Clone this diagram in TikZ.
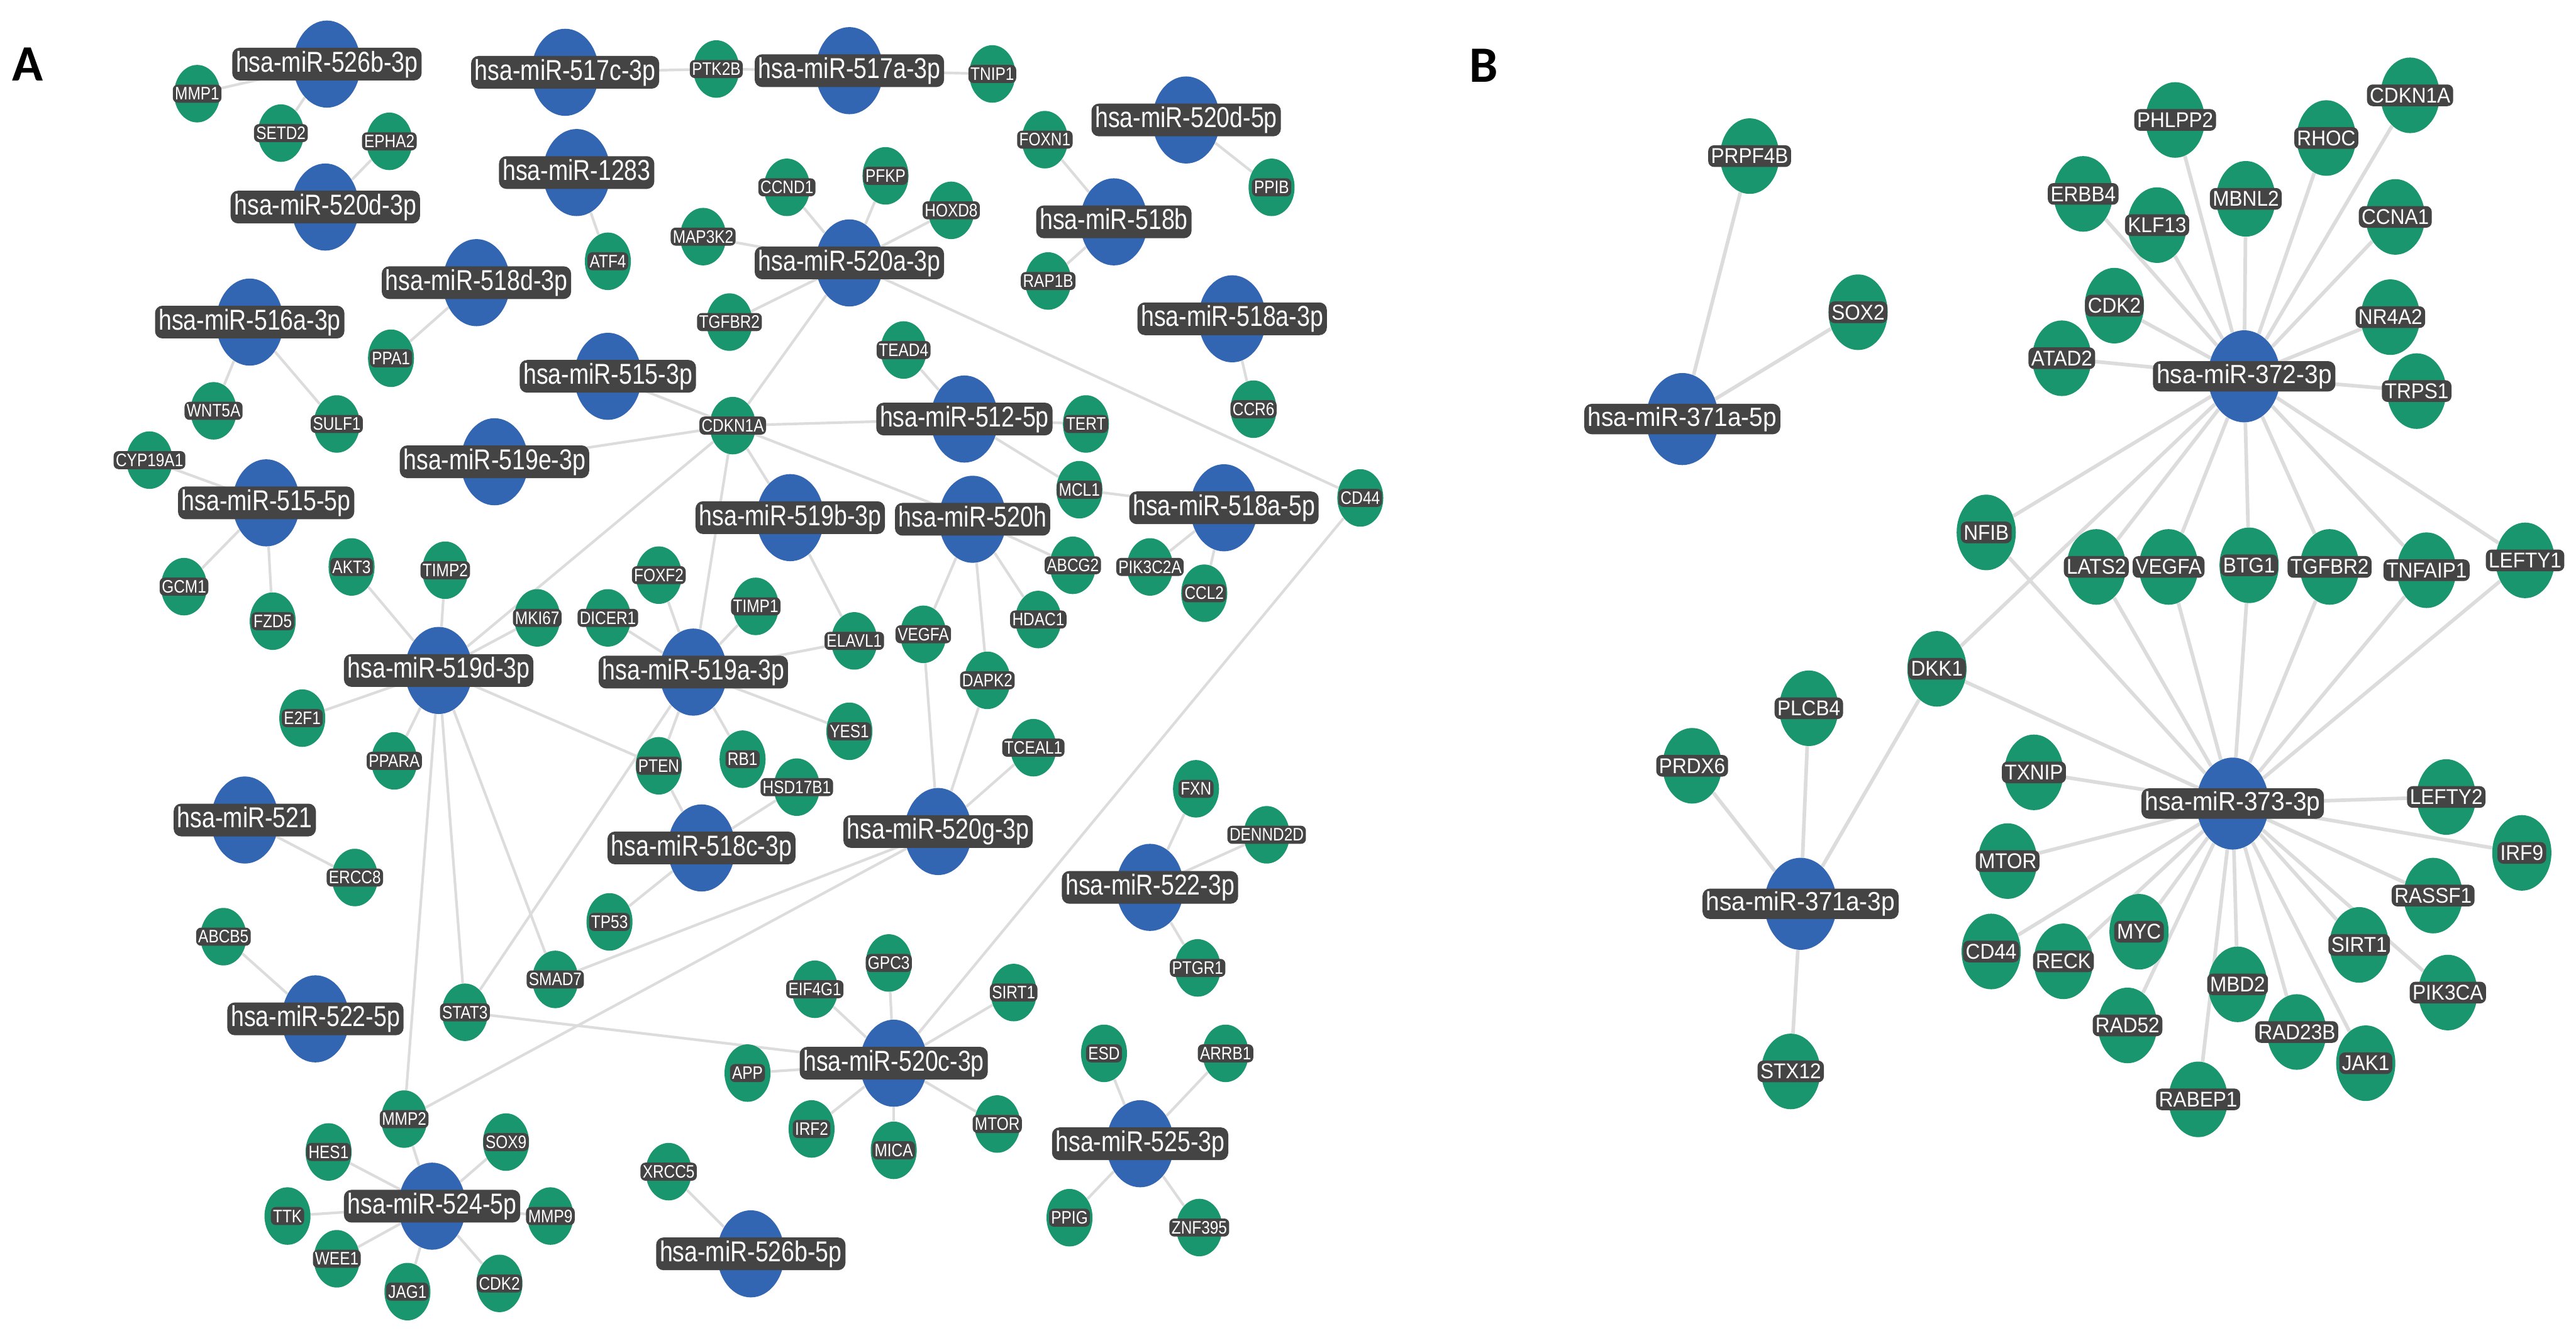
\documentclass[tikz,border=0pt]{standalone}
\usepackage{fontspec}
\setmainfont{Liberation Sans}
\newfontfamily\fA[FakeStretch=0.82]{Liberation Sans}
\newfontfamily\fG[FakeStretch=0.85]{Liberation Sans}
\newfontfamily\fB[FakeStretch=0.93]{Liberation Sans}
\newfontfamily\fP{Carlito}
\usetikzlibrary{shapes.geometric}
\pgfdeclarelayer{bg}
\pgfsetlayers{bg,main}
\definecolor{mirblue}{RGB}{50,101,178}
\definecolor{gengreen}{RGB}{26,150,110}
\definecolor{edgegray}{RGB}{220,220,220}
\definecolor{hgray}{RGB}{68,68,68}
\tikzset{
 mirA/.style={ellipse, fill=mirblue, minimum width=41pt, minimum height=53pt, inner sep=0pt},
 genA/.style={ellipse, fill=gengreen, minimum width=28pt, minimum height=35pt, inner sep=0pt},
 mirB/.style={ellipse, fill=mirblue, minimum width=44pt, minimum height=56pt, inner sep=0pt},
 genB/.style={ellipse, fill=gengreen, minimum width=36pt, minimum height=46pt, inner sep=0pt},
 edgeA/.style={draw=edgegray, line width=1.6pt},
 edgeB/.style={draw=edgegray, line width=2.2pt},
 lab/.style={text=white, fill=hgray},
 labmA/.style={lab, rounded corners=4.5pt, inner xsep=2.2pt, inner ysep=1.8pt, text height=12.8pt, text depth=3.5pt, font=\fA\fontsize{17.5}{17.5}\selectfont},
 labgA/.style={lab, rounded corners=3pt, inner xsep=1.3pt, inner ysep=1.3pt, text height=8pt, text depth=0.4pt, font=\fG\fontsize{11}{11}\selectfont},
 labmB/.style={lab, rounded corners=4.5pt, inner xsep=2.2pt, inner ysep=1.8pt, text height=11.7pt, text depth=3.2pt, font=\fB\fontsize{16}{16}\selectfont},
 labgB/.style={lab, rounded corners=3.5pt, inner xsep=1.7pt, inner ysep=1.6pt, text height=9.5pt, text depth=0.5pt, font=\fB\fontsize{13}{13}\selectfont},
 panel/.style={inner sep=0pt, font=\fP\bfseries\fontsize{31}{31}\selectfont}
}
\def\mirAlist{m526b3/199/39/hsa-miR-526b-3p, m517c3/344/44/hsa-miR-517c-3p, m517a3/517/43/hsa-miR-517a-3p,
m520d5/722/73/hsa-miR-520d-5p, m520d3/198/126/hsa-miR-520d-3p, m1283/351/105/hsa-miR-1283,
m518b/678/135/hsa-miR-518b, m518d3/290/172/hsa-miR-518d-3p, m520a3/517/160/hsa-miR-520a-3p,
m518a3/750/194/hsa-miR-518a-3p, m516a3/152/196/hsa-miR-516a-3p, m515a3/370/229/hsa-miR-515-3p,
m512a5/587/255/hsa-miR-512-5p, m519e3/301/281/hsa-miR-519e-3p, m515a5/162/306/hsa-miR-515-5p,
m519b3/481/315/hsa-miR-519b-3p, m520h/592/316/hsa-miR-520h, m518a5/745/309/hsa-miR-518a-5p,
m519d3/267/408/hsa-miR-519d-3p, m519a3/422/409/hsa-miR-519a-3p, m521/149/499/hsa-miR-521,
m518c3/427/516/hsa-miR-518c-3p, m520g3/571/506/hsa-miR-520g-3p, m522a3/700/540/hsa-miR-522-3p,
m522a5/192/620/hsa-miR-522-5p, m520c3/544/647/hsa-miR-520c-3p, m525a3/694/696/hsa-miR-525-3p,
m524a5/263/734/hsa-miR-524-5p, m526b5/457/763/hsa-miR-526b-5p}
\def\genAlist{aMMP1/120/57/MMP1, aSETD2/171/81/SETD2, aEPHA2/237/86/EPHA2, aPTK2B/436/42/PTK2B,
aTNIP1/604/45/TNIP1, aFOXN1/636/85/FOXN1, aPPIB/774/114/PPIB, aCCND1/479/114/CCND1, aPFKP/539/107/PFKP,
aHOXD8/579/128/HOXD8, aMAP3K2/428/144/MAP3K2, aATF4/370/159/ATF4, aRAP1B/638/171/RAP1B,
aTGFBR2/444/196/TGFBR2, aTEAD4/550/213/TEAD4, aPPA1/238/218/PPA1, aCCR6/763/249/CCR6,
aWNT5A/130/250/WNT5A, aSULF1/205/258/SULF1, aTERT/661/258/TERT, aCDKN1A/446/259/CDKN1A,
aCYP19A1/91/280/CYP19A1, aMCL1/657/298/MCL1, aCD44/828/303/CD44, aAKT3/214/345/AKT3,
aTIMP2/271/347/TIMP2, aABCG2/653/344/ABCG2, aPIK3C2A/700/345/PIK3C2A, aFOXF2/401/350/FOXF2,
aGCM1/112/357/GCM1, aCCL2/733/361/CCL2, aTIMP1/460/369/TIMP1, aMKI67/327/376/MKI67,
aDICER1/370/376/DICER1, aHDAC1/632/377/HDAC1, aFZD5/166/378/FZD5, aVEGFA/562/386/VEGFA,
aELAVL1/520/390/ELAVL1, aDAPK2/601/414/DAPK2, aE2F1/184/437/E2F1, aYES1/517/445/YES1,
aTCEAL1/629/455/TCEAL1, aPPARA/240/463/PPARA, aRB1/452/462/RB1, aPTEN/401/466/PTEN,
aHSD17B1/485/479/HSD17B1, aFXN/728/480/FXN, aDENND2D/771/508/DENND2D, aERCC8/216/534/ERCC8,
aTP53/371/561/TP53, aABCB5/136/570/ABCB5, aGPC3/541/586/GPC3, aPTGR1/729/589/PTGR1,
aSMAD7/338/596/SMAD7, aEIF4G1/496/602/EIF4G1, aSIRT1/617/604/SIRT1, aSTAT3/283/616/STAT3,
aESD/672/641/ESD, aARRB1/746/641/ARRB1, aAPP/455/653/APP, aMMP2/246/681/MMP2, aMTOR/607/684/MTOR,
aIRF2/494/687/IRF2, aSOX9/308/695/SOX9, aMICA/544/700/MICA, aHES1/200/701/HES1,
aXRCC5/407/713/XRCC5, aTTK/175/740/TTK, aMMP9/335/740/MMP9, aPPIG/651/741/PPIG,
aZNF395/730/747/ZNF395, aWEE1/205/766/WEE1, aCDK2/304/781/CDK2, aJAG1/248/786/JAG1}
\def\edgeAlist{m526b3/aMMP1, m526b3/aSETD2, m520d3/aEPHA2, m517c3/aPTK2B, aPTK2B/m517a3, m517a3/aTNIP1,
m1283/aATF4, m520d5/aPPIB, m518b/aFOXN1, m518b/aRAP1B, m518a3/aCCR6, m516a3/aWNT5A, m516a3/aSULF1,
m518d3/aPPA1, m515a5/aCYP19A1, m515a5/aGCM1, m515a5/aFZD5,
m520a3/aCCND1, m520a3/aPFKP, m520a3/aHOXD8, m520a3/aMAP3K2, m520a3/aTGFBR2, m520a3/aCDKN1A, m520a3/aCD44,
m515a3/aCDKN1A, m519e3/aCDKN1A, m512a5/aCDKN1A, m520h/aCDKN1A, m519b3/aCDKN1A, m519a3/aCDKN1A, m519d3/aCDKN1A,
m512a5/aTEAD4, m512a5/aTERT, m512a5/aMCL1, m518a5/aMCL1, m518a5/aPIK3C2A, m518a5/aCCL2,
m520h/aABCG2, m520h/aHDAC1, m520h/aDAPK2, m520h/aVEGFA, m519b3/aELAVL1,
m519a3/aFOXF2, m519a3/aDICER1, m519a3/aTIMP1, m519a3/aELAVL1, m519a3/aYES1, m519a3/aRB1, m519a3/aPTEN, m519a3/aSTAT3,
m519d3/aAKT3, m519d3/aTIMP2, m519d3/aMKI67, m519d3/aE2F1, m519d3/aPPARA, m519d3/aPTEN, m519d3/aMMP2, m519d3/aSTAT3, m519d3/aSMAD7,
m518c3/aPTEN, m518c3/aHSD17B1, m518c3/aTP53,
m520g3/aVEGFA, m520g3/aDAPK2, m520g3/aTCEAL1, m520g3/aMMP2, m520g3/aSMAD7,
m521/aERCC8, m522a5/aABCB5,
m524a5/aMMP2, m524a5/aHES1, m524a5/aTTK, m524a5/aWEE1, m524a5/aJAG1, m524a5/aSOX9, m524a5/aMMP9, m524a5/aCDK2,
m526b5/aXRCC5,
m520c3/aSTAT3, m520c3/aEIF4G1, m520c3/aGPC3, m520c3/aAPP, m520c3/aIRF2, m520c3/aMICA, m520c3/aMTOR, m520c3/aSIRT1, m520c3/aCD44,
m522a3/aFXN, m522a3/aDENND2D, m522a3/aPTGR1,
m525a3/aESD, m525a3/aARRB1, m525a3/aPPIG, m525a3/aZNF395}
\def\mirBlist{b371a5/1024/255/hsa-miR-371a-5p, b372/1366/229/hsa-miR-372-3p,
b373/1359/489/hsa-miR-373-3p, b371a3/1096/550/hsa-miR-371a-3p}
\def\genBlist{bPRPF4B/1065/95/PRPF4B, bSOX2/1131/190/SOX2, bPHLPP2/1324/73/PHLPP2, bCDKN1A/1467/58/CDKN1A,
bRHOC/1416/84/RHOC, bERBB4/1268/118/ERBB4, bKLF13/1313/137/KLF13, bMBNL2/1367/121/MBNL2,
bCCNA1/1458/132/CCNA1, bCDK2/1287/186/CDK2, bNR4A2/1455/193/NR4A2, bATAD2/1255/218/ATAD2,
bTRPS1/1471/238/TRPS1, bNFIB/1209/324/NFIB, bLATS2/1276/345/LATS2, bVEGFA/1320/345/VEGFA,
bBTG1/1369/344/BTG1, bTGFBR2/1418/345/TGFBR2, bTNFAIP1/1477/347/TNFAIP1, bLEFTY1/1537/341/LEFTY1,
bDKK1/1179/407/DKK1, bPLCB4/1101/431/PLCB4, bPRDX6/1030/466/PRDX6, bSTX12/1090/652/STX12,
bTXNIP/1238/470/TXNIP, bLEFTY2/1489/485/LEFTY2, bIRF9/1535/519/IRF9, bMTOR/1222/524/MTOR,
bRASSF1/1481/545/RASSF1, bCD44/1212/579/CD44, bRECK/1256/585/RECK, bMYC/1302/567/MYC,
bMBD2/1362/599/MBD2, bSIRT1/1436/575/SIRT1, bPIK3CA/1490/604/PIK3CA, bRAD52/1295/624/RAD52,
bRAD23B/1398/628/RAD23B, bJAK1/1440/647/JAK1, bRABEP1/1338/669/RABEP1}
\def\edgeBlist{b372/bPHLPP2, b372/bCDKN1A, b372/bRHOC, b372/bERBB4, b372/bKLF13, b372/bMBNL2, b372/bCCNA1,
b372/bCDK2, b372/bNR4A2, b372/bATAD2, b372/bTRPS1, b372/bNFIB, b372/bDKK1, b372/bLATS2, b372/bVEGFA,
b372/bBTG1, b372/bTGFBR2, b372/bTNFAIP1, b372/bLEFTY1,
b373/bNFIB, b373/bLATS2, b373/bVEGFA, b373/bBTG1, b373/bTGFBR2, b373/bTNFAIP1, b373/bLEFTY1, b373/bDKK1,
b373/bTXNIP, b373/bMTOR, b373/bCD44, b373/bRECK, b373/bMYC, b373/bRAD52, b373/bRABEP1, b373/bMBD2,
b373/bRAD23B, b373/bJAK1, b373/bSIRT1, b373/bPIK3CA, b373/bRASSF1, b373/bIRF9, b373/bLEFTY2,
b371a5/bPRPF4B, b371a5/bSOX2, b371a3/bPRDX6, b371a3/bPLCB4, b371a3/bDKK1, b371a3/bSTX12}
\begin{document}
\begin{tikzpicture}[x=1pt,y=-1pt]
\useasboundingbox (0,0) rectangle (1568,811);
\begin{pgfonlayer}{bg}
\fill[white] (0,0) rectangle (1568,811);
\end{pgfonlayer}
% nodes
\foreach \n/\x/\y/\t in \mirAlist {\node[mirA] (\n) at (\x,\y) {};}
\foreach \n/\x/\y/\t in \genAlist {\node[genA] (\n) at (\x,\y) {};}
\foreach \n/\x/\y/\t in \mirBlist {\node[mirB] (\n) at (\x,\y) {};}
\foreach \n/\x/\y/\t in \genBlist {\node[genB] (\n) at (\x,\y) {};}
% connectors
\begin{pgfonlayer}{bg}
\foreach \a/\b in \edgeAlist {\draw[edgeA] (\a) -- (\b);}
\foreach \a/\b in \edgeBlist {\draw[edgeB] (\a) -- (\b);}
\end{pgfonlayer}
% labels
\foreach \n/\x/\y/\t in \genAlist {\node[labgA] at (\n) {\t};}
\foreach \n/\x/\y/\t in \mirAlist {\node[labmA] at (\n) {\t};}
\foreach \n/\x/\y/\t in \genBlist {\node[labgB] at (\n) {\t};}
\foreach \n/\x/\y/\t in \mirBlist {\node[labmB] at (\n) {\t};}
\node[panel] (pA) at (17,39) {A};
\node[panel] (pB) at (903,40) {B};
\end{tikzpicture}
\end{document}
